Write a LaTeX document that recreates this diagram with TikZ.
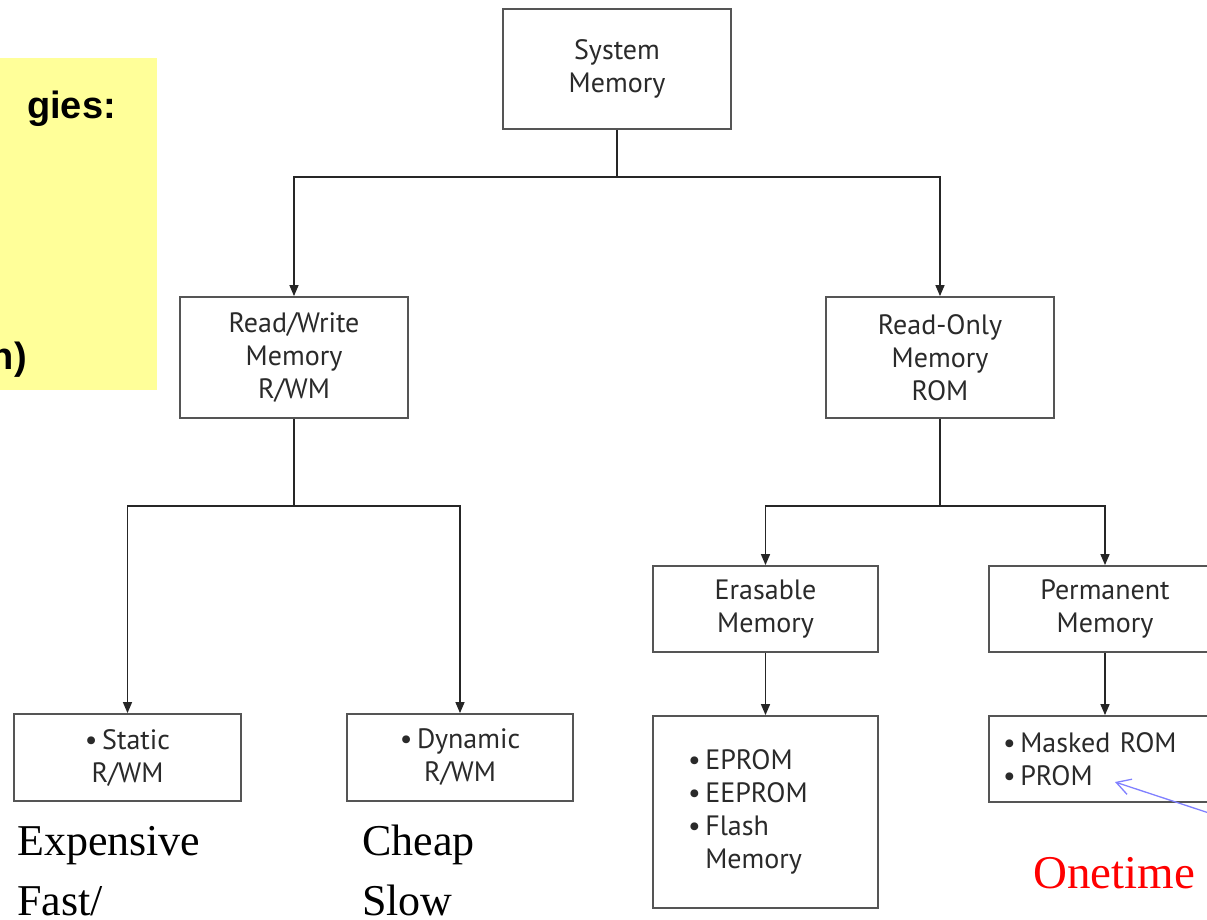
\documentclass[tikz,border=0pt]{standalone}
\usepackage{fontspec}
\setmainfont{Liberation Serif}
\newfontfamily\boxfont{PT Sans}
\newfontfamily\slidefont{Liberation Sans}
\usetikzlibrary{arrows.meta}
\definecolor{boxline}{HTML}{555555}
\definecolor{boxtext}{HTML}{2A2A2A}
\definecolor{notefill}{HTML}{FFFF99}
\definecolor{pointer}{HTML}{8080FF}

\begin{document}
\begin{tikzpicture}[x=1pt,y=-1pt,
  membox/.style={draw=boxline, line width=1.8pt, fill=white, text=boxtext,
    font=\boxfont\fontsize{28}{33}\selectfont, align=center, inner sep=0pt},
  listbox/.style={membox, align=left},
  link/.style={line width=1.4pt, draw=black!85},
  arr/.style={link, -{Triangle[length=11pt,width=9pt]}},
  slidetext/.style={font=\slidefont\bfseries\fontsize{38}{42}\selectfont, inner sep=0pt, anchor=base east},
  remark/.style={font=\fontsize{44}{50}\selectfont, inner sep=0pt, anchor=base west},
]
\useasboundingbox (0,0) rectangle (1207,920);

% yellow note from the slide
\fill[notefill] (-10,58) rectangle (157,390);
\node[slidetext] (n1) at (116,119) {gies:};
\node[slidetext] (n2) at (27,369) {n)};

% memory hierarchy
\node[membox, minimum width=228, minimum height=120] (sys)  at (617,69)    {System\\Memory};
\node[membox, minimum width=228, minimum height=121] (rw)   at (294,357.5) {Read/Write\\Memory\\R/WM};
\node[membox, minimum width=228, minimum height=121] (rom)  at (940,357.5) {Read-Only\\Memory\\ROM};
\node[membox, minimum width=227, minimum height=87]  (sram) at (127.5,757.5) {\textbullet\,Static\\R/WM};
\node[membox, minimum width=226, minimum height=87]  (dram) at (460,757.5) {\textbullet\,Dynamic\\R/WM};
\node[membox, minimum width=225, minimum height=86]  (eras) at (765.5,609) {Erasable\\Memory};
\node[membox, minimum width=232, minimum height=86]  (perm) at (1105,609) {Permanent\\Memory};
\node[listbox, inner xsep=35pt, text width=155, minimum height=192] (elist) at (765.5,812)
  {\textbullet\,EPROM\\\textbullet\,EEPROM\\\textbullet\,Flash\\\hphantom{\textbullet\,}Memory};
\node[listbox, inner xsep=14pt, text width=204, minimum height=86]  (plist) at (1105,759)
  {\textbullet\,Masked ROM\\\textbullet\,PROM};

% connectors
\draw[arr] (sys.south) -- ++(0,47) -| (rw.north);
\draw[arr] (sys.south) -- ++(0,47) -| (rom.north);
\draw[arr] (rw.south)  -- ++(0,87) -| (sram.north);
\draw[arr] (rw.south)  -- ++(0,87) -| (dram.north);
\draw[arr] (rom.south) -- ++(0,87) -| (eras.north);
\draw[arr] (rom.south) -- ++(0,87) -| (perm.north);
\draw[arr] (eras.south) -- (elist.north);
\draw[arr] (perm.south) -- (plist.north);

% remarks under the boxes
\node[remark] (exp)  at (17,855)  {Expensive};
\node[remark] (fast) at (17,915)  {Fast/};
\node[remark] (chp)  at (362,855) {Cheap};
\node[remark] (slow) at (362,915) {Slow};
\node[remark, text=red, font=\fontsize{47}{50}\selectfont] (once) at (1033,888) {Onetime};

% pointer to PROM
\coordinate (pfrom) at (1215,815);
\coordinate (ptip)  at (1115,782);
\draw[pointer, line width=1.3pt, -{Straight Barb[length=14pt,width=16pt]}] (pfrom) -- (ptip);
\end{tikzpicture}
\end{document}
